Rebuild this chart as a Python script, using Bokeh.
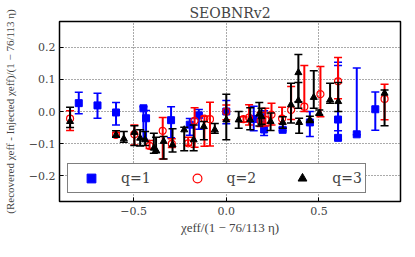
from bokeh.plotting import figure
from bokeh.models import Range1d, FixedTicker, Legend, LegendItem, ColumnDataSource
from bokeh.embed import file_html
from bokeh.resources import INLINE

# ---- data ----
q1_x = [-0.796, -0.695, -0.595, -0.447, -0.433, -0.298, -0.197, -0.148, 0.0, 0.148, 0.204, 0.304, 0.451, 0.603, 0.603, 0.704, 0.804]
q1_y = [0.026, 0.019, -0.003, 0.010, -0.021, -0.027, -0.041, -0.012, 0.0, -0.023, -0.056, -0.057, -0.034, -0.025, -0.082, -0.071, 0.007]
q1_hi = [0.060, 0.057, 0.028, 0.015, 0.003, 0.015, -0.022, 0.006, 0.034, 0.016, 0.002, -0.050, 0.000, 0.153, 0.143, 0.135, 0.061]
q1_lo = [-0.007, -0.021, -0.042, -0.085, -0.090, -0.082, -0.074, -0.055, -0.038, -0.060, -0.075, -0.060, -0.078, -0.060, -0.087, -0.072, -0.058]

q2_x = [-0.843, -0.595, -0.496, -0.414, -0.343, -0.294, -0.206, -0.171, -0.118, -0.088, 0.0, 0.093, 0.123, 0.185, 0.211, 0.244, 0.301, 0.350, 0.421, 0.508, 0.603, 0.854]
q2_y = [-0.022, -0.073, -0.071, -0.107, -0.060, -0.101, -0.099, -0.029, -0.022, -0.024, 0.0, -0.024, -0.019, -0.029, -0.026, -0.010, -0.022, 0.005, 0.015, 0.054, 0.094, 0.039]
q2_hi = [0.002, -0.065, -0.042, -0.090, -0.019, -0.085, -0.080, 0.012, -0.015, 0.029, 0.020, -0.016, 0.021, -0.003, 0.010, 0.026, 0.013, 0.078, 0.143, 0.140, 0.168, 0.085]
q2_lo = [-0.059, -0.080, -0.104, -0.115, -0.148, -0.112, -0.105, -0.111, -0.108, -0.107, -0.026, -0.033, -0.042, -0.047, -0.045, -0.042, -0.037, -0.025, 0.000, -0.016, 0.040, -0.026]

q3_x = [-0.843, -0.595, -0.553, -0.496, -0.465, -0.438, -0.391, -0.379, -0.338, -0.290, -0.227, -0.176, -0.121, -0.062, 0.0, 0.067, 0.129, 0.178, 0.190, 0.239, 0.305, 0.349, 0.389, 0.389, 0.393, 0.451, 0.472, 0.502, 0.560, 0.604, 0.854]
q3_y = [-0.031, -0.073, -0.085, -0.065, -0.083, -0.088, -0.114, -0.121, -0.093, -0.104, -0.057, -0.088, -0.047, -0.057, -0.026, -0.026, -0.026, -0.008, -0.016, -0.031, -0.034, 0.021, 0.121, 0.034, -0.034, -0.026, 0.044, -0.005, 0.036, 0.031, 0.057]
q3_hi = [0.013, -0.060, -0.062, -0.044, -0.057, -0.062, -0.068, -0.080, -0.078, -0.054, -0.049, -0.042, -0.031, -0.037, 0.054, 0.000, 0.012, 0.028, 0.010, -0.005, -0.016, 0.088, 0.177, 0.090, -0.021, -0.015, 0.127, 0.005, 0.088, 0.090, 0.067]
q3_lo = [-0.050, -0.080, -0.096, -0.106, -0.107, -0.106, -0.130, -0.128, -0.148, -0.126, -0.122, -0.122, -0.088, -0.068, -0.088, -0.052, -0.057, -0.045, -0.040, -0.059, -0.052, -0.036, 0.030, 0.010, -0.068, -0.034, 0.010, -0.012, 0.026, 0.000, -0.044]

series_labels = ["q=1", "q=2", "q=3"]
x_ticks = [-0.5, 0.0, 0.5]
x_tick_labels = ["−0.5", "0.0", "0.5"]
y_ticks = [-0.2, -0.1, 0.0, 0.1, 0.2]
y_tick_labels = ["−0.2", "−0.1", "0.0", "0.1", "0.2"]

SERIF = "DejaVu Serif"
LSERIF = "Liberation Serif"

p = figure(width=402, height=241, x_range=Range1d(-0.9, 0.94), y_range=Range1d(-0.28, 0.28),
           output_backend="svg", toolbar_location=None,
           min_border_left=53, min_border_right=2, min_border_top=21, min_border_bottom=40,
           title="SEOBNRv2")
p.title.text_font = SERIF
p.title.text_font_size = "14px"
p.title.text_font_style = "normal"
p.title.align = "center"
p.title.standoff = 2

p.outline_line_color = "black"
p.outline_line_width = 1.5
p.outline_line_alpha = 1.0

for ax in (p.xaxis, p.yaxis):
    ax.axis_line_color = None
    ax.major_tick_in = 4
    ax.major_tick_out = 0
    ax.minor_tick_line_color = None
    ax.major_label_text_font = SERIF
    ax.major_label_text_font_size = "11px"
    ax.axis_label_text_font = LSERIF
    ax.axis_label_text_font_style = "normal"

p.xaxis.axis_label_text_font_size = "13px"
p.yaxis.axis_label_text_font_size = "11px"
p.xaxis.ticker = FixedTicker(ticks=x_ticks)
p.yaxis.ticker = FixedTicker(ticks=y_ticks)
p.xaxis.major_label_overrides = dict(zip(x_ticks, x_tick_labels))
p.yaxis.major_label_overrides = dict(zip(y_ticks, y_tick_labels))
p.xaxis.major_label_standoff = 5
p.yaxis.major_label_standoff = 4
p.xaxis.axis_label = "χeff/(1 − 76/113 η)"
p.yaxis.axis_label = "(Recovered χeff - Injected χeff)/(1 − 76/113 η)"
p.xaxis.axis_label_standoff = 2
p.yaxis.axis_label_standoff = 10

p.xgrid.ticker = FixedTicker(ticks=x_ticks)
p.ygrid.ticker = FixedTicker(ticks=y_ticks)
for g in (p.xgrid, p.ygrid):
    g.grid_line_color = "#555555"
    g.grid_line_dash = "1 2"
    g.grid_line_width = 1

specs = [
    (q1_x, q1_y, q1_lo, q1_hi, "blue", "square", "blue"),
    (q2_x, q2_y, q2_lo, q2_hi, "red", "circle", None),
    (q3_x, q3_y, q3_lo, q3_hi, "black", "triangle", "black"),
]
items = []
for (xs, ys, lo, hi, col, mk, fill), lab in zip(specs, series_labels):
    src = ColumnDataSource(dict(x=xs, y=ys, lo=lo, hi=hi))
    p.segment(x0="x", y0="lo", x1="x", y1="hi", source=src, line_color=col, line_width=2)
    p.scatter(x="x", y="hi", marker="dash", size=8, line_color=col, line_width=1.5, source=src)
    p.scatter(x="x", y="lo", marker="dash", size=8, line_color=col, line_width=1.5, source=src)
    if fill is None:
        r = p.scatter(x="x", y="y", marker=mk, size=7, line_color=col, fill_color=None,
                      line_width=1.2, source=src)
    else:
        r = p.scatter(x="x", y="y", marker=mk, size=7, line_color=col, fill_color=fill,
                      line_width=1, source=src)
    items.append(LegendItem(label=lab, renderers=[r]))

legend = Legend(items=items, orientation="horizontal", location="bottom_left",
                glyph_width=40, glyph_height=22, label_standoff=10, label_width=26,
                spacing=26, padding=3, margin=8,
                border_line_color="black", border_line_width=1.5,
                background_fill_alpha=1.0,
                label_text_font=SERIF, label_text_font_size="14px")
p.add_layout(legend, "center")

open("out.html", "w").write(file_html(p, INLINE))
